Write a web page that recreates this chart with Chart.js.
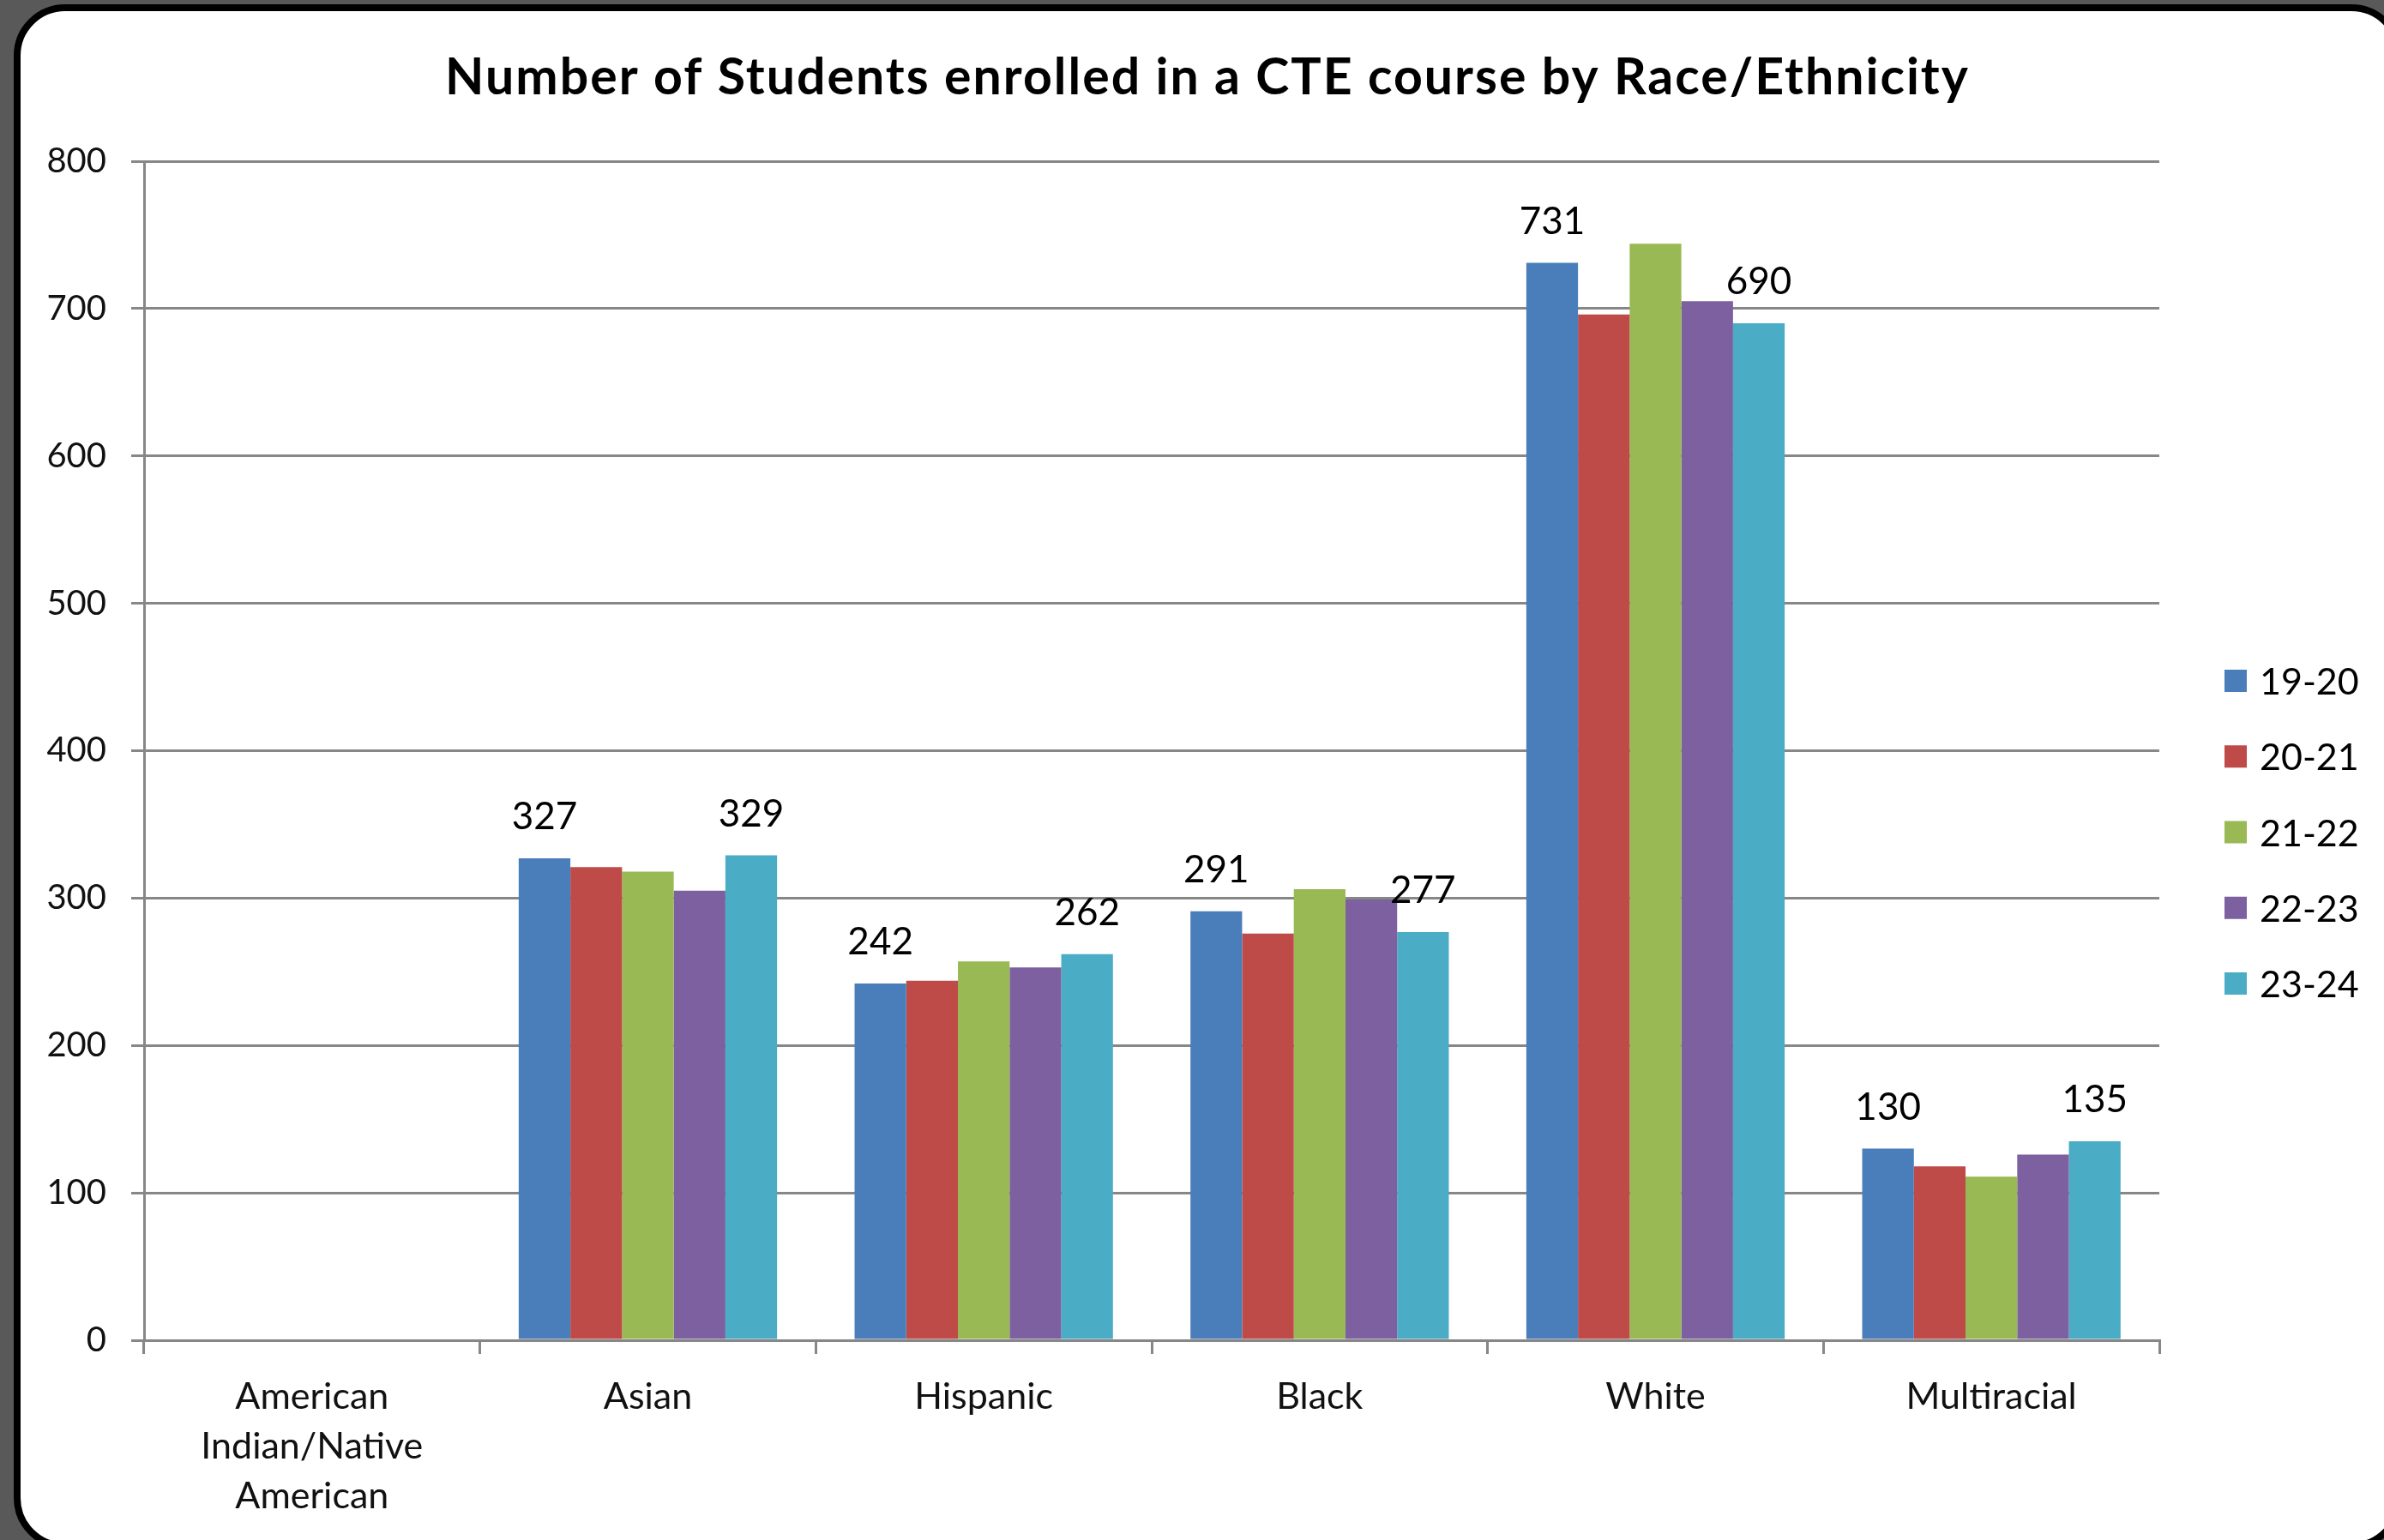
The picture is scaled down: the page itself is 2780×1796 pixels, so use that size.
<!DOCTYPE html>
<html>
<head>
<meta charset="utf-8">
<script src="https://cdn.jsdelivr.net/npm/chart.js@4.4.1/dist/chart.umd.min.js"></script>
<style>
  html, body { margin: 0; padding: 0; width: 2780px; height: 1796px; overflow: hidden; background: #595959; }
  #cadre { position: absolute; left: 16px; top: 5px; width: 2786px; height: 1802px; box-sizing: border-box;
           border: 8px solid #000; border-radius: 60px; background: #fff; }
  #graph { position: absolute; left: 0; top: 0; }
</style>
</head>
<body>
<div id="cadre"></div>
<canvas id="graph" width="2780" height="1796"></canvas>
<script>
const titre = 'Number of Students enrolled in a CTE course by Race/Ethnicity';
const categories = [['American', 'Indian/Native', 'American'], 'Asian', 'Hispanic', 'Black', 'White', 'Multiracial'];
const annees = ['19-20', '20-21', '21-22', '22-23', '23-24'];
const valeurs1920 = [null, 327, 242, 291, 731, 130];
const valeurs2021 = [null, 321, 244, 276, 696, 118];
const valeurs2122 = [null, 318, 257, 306, 744, 111];
const valeurs2223 = [null, 305, 253, 299, 705, 126];
const valeurs2324 = [null, 329, 262, 277, 690, 135];
const couleurs = ['#4A7EBB', '#BE4B48', '#98B954', '#7D60A0', '#4BACC6'];
const seriesEtiquetees = [0, 4]; // seulement 19-20 et 23-24 ont des étiquettes

const series = [valeurs1920, valeurs2021, valeurs2122, valeurs2223, valeurs2324];

// titre du graphique
const pluginTitre = {
    id: 'pluginTitre',
    afterDraw(chart) {
        const ctx = chart.ctx;
        ctx.save();
        ctx.font = 'bold 59px Lato';
        ctx.letterSpacing = '2px';
        ctx.fillStyle = '#000';
        ctx.textAlign = 'center';
        ctx.textBaseline = 'alphabetic';
        ctx.fillText(titre, 1408, 110);
        ctx.restore();
    }
};

// valeurs au-dessus des barres
const pluginEtiquettes = {
    id: 'pluginEtiquettes',
    afterDatasetsDraw(chart) {
        const ctx = chart.ctx;
        ctx.save();
        ctx.font = '44px Lato';
        ctx.fillStyle = '#000';
        ctx.textAlign = 'center';
        ctx.textBaseline = 'alphabetic';
        seriesEtiquetees.forEach(i => {
            chart.getDatasetMeta(i).data.forEach((barre, j) => {
                const v = chart.data.datasets[i].data[j];
                if (v == null) return;
                ctx.fillText(v, barre.x, barre.y - 34);
            });
        });
        ctx.restore();
    }
};

// légende à droite
const pluginLegende = {
    id: 'pluginLegende',
    afterDraw(chart) {
        const ctx = chart.ctx;
        ctx.save();
        ctx.font = '43px Lato';
        ctx.textBaseline = 'alphabetic';
        ctx.textAlign = 'left';
        chart.data.datasets.forEach((ds, i) => {
            const y = 794 + i * 88.25;
            ctx.fillStyle = ds.backgroundColor;
            ctx.fillRect(2594, y - 13, 26, 26);
            ctx.fillStyle = '#000';
            ctx.fillText(ds.label, 2635, y + 16);
        });
        ctx.restore();
    }
};

new Chart(document.getElementById('graph'), {
    type: 'bar',
    data: {
        labels: categories,
        datasets: annees.map((a, i) => ({
            label: a,
            data: series[i],
            backgroundColor: couleurs[i],
            borderWidth: 0,
            categoryPercentage: 5 / 6.5,
            barPercentage: 1
        }))
    },
    options: {
        responsive: false,
        animation: false,
        layout: { padding: { left: 0, right: 262, top: 188, bottom: 33 } },
        plugins: {
            legend: { display: false },
            title: { display: false },
            tooltip: { enabled: false }
        },
        scales: {
            x: {
                grid: { offset: true, drawOnChartArea: false, drawTicks: true, tickLength: 16, color: '#878787', lineWidth: 3 },
                border: { color: '#878787', width: 3 },
                ticks: { font: { family: 'Lato', size: 43, lineHeight: 1.35 }, color: '#111', padding: 21, maxRotation: 0, autoSkip: false },
                afterFit(s) { s.height = 200; }
            },
            y: {
                min: 0,
                max: 800,
                ticks: { stepSize: 100, font: { family: 'Lato', size: 40 }, color: '#111', padding: 29 },
                grid: { color: '#878787', lineWidth: 3, tickLength: 15 },
                border: { color: '#878787', width: 3 },
                afterFit(s) { s.width = 168; }
            }
        }
    },
    plugins: [pluginTitre, pluginEtiquettes, pluginLegende]
});
</script>
</body>
</html>
